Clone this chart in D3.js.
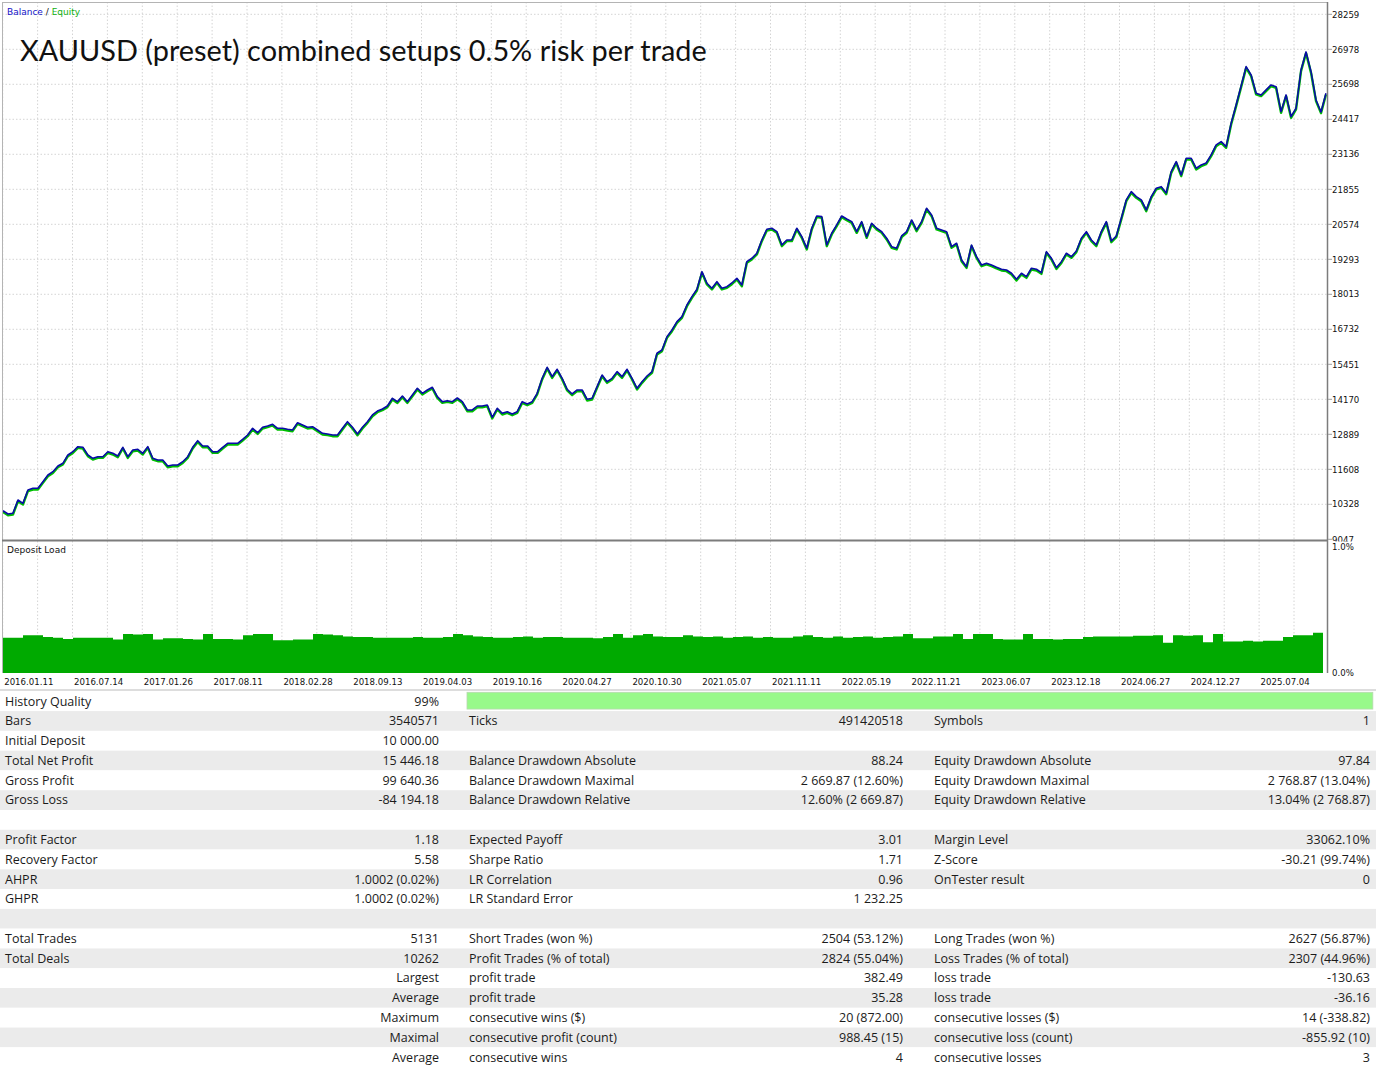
<!DOCTYPE html>
<html lang="en">
<head>
<meta charset="UTF-8" />
<title>XAUUSD backtest report</title>
<style>
  body { margin: 0; background: #fff; }
  svg { display: block; }
  .axis-label { font-family: "DejaVu Sans", sans-serif; font-size: 8.6px; fill: #111; }
  .panel-label { font-family: "DejaVu Sans", sans-serif; font-size: 9px; }
  .grid line { stroke: #d4d4d4; stroke-width: 1; stroke-dasharray: 1.5 2; }
  .stats text { font-family: "Open Sans", sans-serif; font-size: 12.5px; fill: #1b1b1b; }
</style>
</head>
<body>
<svg id="chart" width="1380" height="1080"></svg>
<script src="https://cdn.jsdelivr.net/npm/d3@7"></script>
<script>
// balance curve at even steps along the test period
const balance = [
  10093, 9973, 9998, 10485, 10364, 10851, 10913, 10913, 11155, 11400,
  11521, 11729, 11828, 12132, 12253, 12436, 12414, 12132, 12011, 12070,
  12070, 12253, 12194, 12095, 12414, 12070, 12315, 12341, 12194, 12436,
  12011, 11949, 11949, 11729, 11766, 11766, 11887, 12070, 12414, 12655,
  12461, 12461, 12253, 12253, 12414, 12560, 12560, 12560, 12707, 12864,
  13109, 12948, 13146, 13193, 13256, 13109, 13109, 13073, 13047, 13314,
  13230, 13146, 13168, 13047, 12926, 12901, 12864, 12864, 13109, 13351,
  13146, 12901, 13146, 13351, 13596, 13742, 13816, 13925, 14207, 14083,
  14291, 14083, 14328, 14573, 14390, 14511, 14610, 14266, 14083, 14119,
  14083, 14218, 14083, 13779, 13779, 13925, 13925, 13962, 13512, 13841,
  13658, 13717, 13633, 13717, 14083, 13999, 14083, 14390, 14939, 15342,
  14998, 15269, 14939, 14537, 14365, 14511, 14511, 14171, 14207, 14632,
  15060, 14815, 14939, 15181, 14998, 15269, 14939, 14573, 14815, 15023,
  15181, 15854, 15975, 16462, 16707, 17011, 17194, 17622, 17926, 18197,
  18841, 18416, 18233, 18475, 18233, 18292, 18427, 18599, 18354, 19207,
  19331, 19514, 20001, 20393, 20429, 20305, 19818, 20001, 20001, 20429,
  20122, 19697, 20429, 20879, 20854, 19818, 20246, 20550, 20879, 20770,
  20671, 20305, 20671, 20122, 20612, 20429, 20305, 20063, 19756, 19697,
  20147, 20305, 20733, 20367, 20671, 21161, 20916, 20429, 20367, 20305,
  19756, 19880, 19269, 19024, 19818, 19390, 19086, 19148, 19086, 19002,
  18929, 18903, 18782, 18563, 18782, 18658, 18965, 18929, 18804, 19573,
  19331, 18987, 19207, 19514, 19390, 19598, 20063, 20305, 20001, 19818,
  20305, 20671, 19964, 20147, 20795, 21465, 21769, 21586, 21465, 21099,
  21586, 21893, 21952, 21721, 22501, 22867, 22380, 22991, 22991, 22625,
  22746, 22819, 23112, 23478, 23599, 23416, 24272, 24942, 25637, 26344,
  26040, 25370, 25308, 25491, 25674, 25612, 24697, 25308, 24514, 24821,
  26223, 26882, 26161, 25125, 24686, 25370
];

// deposit load in percent, same period, coarser steps
const depositLoad = [
  0.28, 0.28, 0.30, 0.30, 0.285, 0.28, 0.27, 0.28, 0.28, 0.28,
  0.28, 0.265, 0.31, 0.305, 0.31, 0.265, 0.275, 0.275, 0.27, 0.265,
  0.31, 0.27, 0.27, 0.265, 0.30, 0.31, 0.31, 0.26, 0.26, 0.265,
  0.265, 0.31, 0.305, 0.30, 0.29, 0.285, 0.285, 0.28, 0.28, 0.28,
  0.28, 0.285, 0.28, 0.28, 0.285, 0.31, 0.30, 0.29, 0.285, 0.28,
  0.28, 0.285, 0.29, 0.28, 0.285, 0.285, 0.28, 0.28, 0.28, 0.275,
  0.285, 0.31, 0.28, 0.30, 0.31, 0.29, 0.285, 0.285, 0.30, 0.29,
  0.285, 0.29, 0.28, 0.285, 0.29, 0.28, 0.285, 0.28, 0.28, 0.29,
  0.30, 0.285, 0.28, 0.29, 0.28, 0.285, 0.29, 0.28, 0.285, 0.29,
  0.31, 0.275, 0.275, 0.29, 0.29, 0.31, 0.27, 0.31, 0.31, 0.27,
  0.265, 0.265, 0.31, 0.27, 0.27, 0.265, 0.27, 0.27, 0.285, 0.29,
  0.29, 0.29, 0.29, 0.295, 0.295, 0.30, 0.24, 0.30, 0.295, 0.30,
  0.245, 0.31, 0.25, 0.25, 0.255, 0.25, 0.255, 0.255, 0.285, 0.30,
  0.30, 0.32, 0.23
];

const balanceTicks = [9047, 10328, 11608, 12889, 14170, 15451, 16732, 18013,
  19293, 20574, 21855, 23136, 24417, 25698, 26978, 28259];
const loadTicks = [1.0, 0.0];
const dateLabels = ["2016.01.11", "2016.07.14", "2017.01.26", "2017.08.11",
  "2018.02.28", "2018.09.13", "2019.04.03", "2019.10.16", "2020.04.27",
  "2020.10.30", "2021.05.07", "2021.11.11", "2022.05.19", "2022.11.21",
  "2023.06.07", "2023.12.18", "2024.06.27", "2024.12.27", "2025.07.04"];

const historyQuality = 99;
const statsRows = [
  ["History Quality", "99%", "", "", "", ""],
  ["Bars", "3540571", "Ticks", "491420518", "Symbols", "1"],
  ["Initial Deposit", "10 000.00", "", "", "", ""],
  ["Total Net Profit", "15 446.18", "Balance Drawdown Absolute", "88.24", "Equity Drawdown Absolute", "97.84"],
  ["Gross Profit", "99 640.36", "Balance Drawdown Maximal", "2 669.87 (12.60%)", "Equity Drawdown Maximal", "2 768.87 (13.04%)"],
  ["Gross Loss", "-84 194.18", "Balance Drawdown Relative", "12.60% (2 669.87)", "Equity Drawdown Relative", "13.04% (2 768.87)"],
  ["", "", "", "", "", ""],
  ["Profit Factor", "1.18", "Expected Payoff", "3.01", "Margin Level", "33062.10%"],
  ["Recovery Factor", "5.58", "Sharpe Ratio", "1.71", "Z-Score", "-30.21 (99.74%)"],
  ["AHPR", "1.0002 (0.02%)", "LR Correlation", "0.96", "OnTester result", "0"],
  ["GHPR", "1.0002 (0.02%)", "LR Standard Error", "1 232.25", "", ""],
  ["", "", "", "", "", ""],
  ["Total Trades", "5131", "Short Trades (won %)", "2504 (53.12%)", "Long Trades (won %)", "2627 (56.87%)"],
  ["Total Deals", "10262", "Profit Trades (% of total)", "2824 (55.04%)", "Loss Trades (% of total)", "2307 (44.96%)"],
  ["", "Largest", "profit trade", "382.49", "loss trade", "-130.63"],
  ["", "Average", "profit trade", "35.28", "loss trade", "-36.16"],
  ["", "Maximum", "consecutive wins ($)", "20 (872.00)", "consecutive losses ($)", "14 (-338.82)"],
  ["", "Maximal", "consecutive profit (count)", "988.45 (15)", "consecutive loss (count)", "-855.92 (10)"],
  ["", "Average", "consecutive wins", "4", "consecutive losses", "3"]
];

const svg = d3.select("#chart");

// panel geometry
const left = 2, right = 1327;
const mainTop = 2, mainBottom = 540;
const loadTop = 541, loadBottom = 673;

const x = d3.scaleLinear().domain([0, balance.length - 1]).range([3, 1326]);
const xLoad = d3.scaleLinear().domain([0, depositLoad.length - 1]).range([3, 1323]);
const xDates = d3.scalePoint().domain(dateLabels).range([2.7, 2.7 + 69.8 * (dateLabels.length - 1)]);
const y = d3.scaleLinear().domain([9047, 28259]).range([539.3, 14.3]);
const yLoad = d3.scaleLinear().domain([0, 1]).range([loadBottom, 547]);

// grid: a line at every date label and one halfway between
const half = xDates.step() / 2;
const gridX = dateLabels.flatMap(d => [xDates(d), xDates(d) + half]).filter(v => v < right);

const grid = svg.append("g").attr("class", "grid");
grid.selectAll(".v1").data(gridX).join("line")
  .attr("x1", d => d).attr("x2", d => d)
  .attr("y1", mainTop).attr("y2", mainBottom);
grid.selectAll(".v2").data(gridX).join("line")
  .attr("x1", d => d).attr("x2", d => d)
  .attr("y1", loadTop).attr("y2", loadBottom);
grid.selectAll(".h").data(balanceTicks.slice(1)).join("line")
  .attr("x1", left).attr("x2", right)
  .attr("y1", d => y(d)).attr("y2", d => y(d));

// deposit load area
svg.append("path")
  .datum(depositLoad)
  .attr("fill", "#00aa00")
  .attr("d", d3.area()
    .curve(d3.curveStepAfter)
    .x((d, i) => xLoad(i))
    .y0(yLoad(0))
    .y1(d => yLoad(d)));

// equity (green) sits just under balance (blue)
const line = d3.line().x((d, i) => x(i)).y(d => y(d));
svg.append("path")
  .datum(balance)
  .attr("fill", "none")
  .attr("stroke", "#00c000")
  .attr("stroke-width", 2.4)
  .attr("stroke-linejoin", "round")
  .attr("transform", "translate(0,1.2)")
  .attr("d", line);
svg.append("path")
  .datum(balance)
  .attr("fill", "none")
  .attr("stroke", "#0a0aa8")
  .attr("stroke-width", 1.6)
  .attr("stroke-linejoin", "round")
  .attr("d", line);

// frame
svg.append("line").attr("x1", left + 0.5).attr("x2", left + 0.5)
  .attr("y1", mainTop).attr("y2", loadBottom).attr("stroke", "#b4b4b4");
svg.append("line").attr("x1", left).attr("x2", right)
  .attr("y1", mainTop + 0.5).attr("y2", mainTop + 0.5).attr("stroke", "#b4b4b4");
svg.append("line").attr("x1", left).attr("x2", right + 1)
  .attr("y1", 540.5).attr("y2", 540.5).attr("stroke", "#7c7c7c").attr("stroke-width", 2);
svg.append("line").attr("x1", right + 0.5).attr("x2", right + 0.5)
  .attr("y1", mainTop).attr("y2", loadBottom).attr("stroke", "#7c7c7c").attr("stroke-width", 1.5);

// right axis of balance panel
const yAxis = svg.append("g");
yAxis.selectAll("line").data(balanceTicks).join("line")
  .attr("x1", right + 1).attr("x2", right + 5)
  .attr("y1", d => y(d)).attr("y2", d => y(d))
  .attr("stroke", "#a0a0a0");
yAxis.selectAll("text").data(balanceTicks).join("text")
  .attr("class", "axis-label")
  .attr("x", 1332).attr("y", d => y(d) + 3.2)
  .text(d => d);
// lower panel hides the bottom half of the last label, as in the terminal
svg.append("rect").attr("x", right + 2).attr("y", 541.5).attr("width", 60).attr("height", 10).attr("fill", "#fff");
svg.selectAll(".load-tick").data(loadTicks).join("text")
  .attr("class", "axis-label")
  .attr("x", 1332).attr("y", d => yLoad(d) + 3.2)
  .text(d => d3.format(".1f")(d) + "%");

// date axis
svg.selectAll(".date").data(dateLabels).join("text")
  .attr("class", "axis-label")
  .attr("x", d => xDates(d) + 1.5).attr("y", 684.5)
  .text(d => d);

// panel captions
const legend = svg.append("text").attr("class", "panel-label").attr("x", 7).attr("y", 14.5);
legend.append("tspan").attr("fill", "#1414c8").text("Balance");
legend.append("tspan").attr("fill", "#111").text(" / ");
legend.append("tspan").attr("fill", "#10b010").text("Equity");
svg.append("text").attr("class", "panel-label").attr("x", 7).attr("y", 552.5)
  .attr("fill", "#111").text("Deposit Load");

const title = svg.append("text")
  .attr("x", 20).attr("y", 61)
  .attr("font-family", "Lato, sans-serif")
  .attr("font-size", 27)
  .attr("fill", "#111")
  .text("XAUUSD (preset) combined setups 0.5% risk per trade");
title.attr("font-size", 27 * 687 / title.node().getComputedTextLength());

// statistics table
const rowBand = d3.scaleBand().domain(d3.range(statsRows.length))
  .range([691.3, 691.3 + 19.78 * statsRows.length]);
const barW = d3.scaleLinear().domain([0, 100]).range([0, 915]);

const stats = svg.append("g").attr("class", "stats");
stats.append("line").attr("x1", 0).attr("x2", 1376)
  .attr("y1", 690).attr("y2", 690).attr("stroke", "#d2d2d2").attr("stroke-width", 1.5);
stats.selectAll("rect.band").data(statsRows).join("rect")
  .attr("class", "band")
  .attr("x", 0).attr("width", 1376)
  .attr("y", (d, i) => rowBand(i)).attr("height", rowBand.bandwidth())
  .attr("fill", (d, i) => i % 2 ? "#ebebeb" : "#ffffff");
stats.append("rect")
  .attr("x", 467).attr("y", rowBand(0) + 1)
  .attr("width", barW(historyQuality)).attr("height", rowBand.bandwidth() - 3)
  .attr("fill", "#98f98a").attr("stroke", "#b8d8b0").attr("stroke-width", 0.8);

const cols = [
  { i: 0, x: 5, anchor: "start" },
  { i: 1, x: 439, anchor: "end" },
  { i: 2, x: 469, anchor: "start" },
  { i: 3, x: 903, anchor: "end" },
  { i: 4, x: 934, anchor: "start" },
  { i: 5, x: 1370, anchor: "end" }
];
statsRows.forEach((row, r) => {
  cols.forEach(c => {
    if (!row[c.i]) return;
    stats.append("text")
      .attr("x", c.x).attr("y", rowBand(r) + 14.2)
      .attr("text-anchor", c.anchor)
      .text(row[c.i]);
  });
});
</script>
</body>
</html>
